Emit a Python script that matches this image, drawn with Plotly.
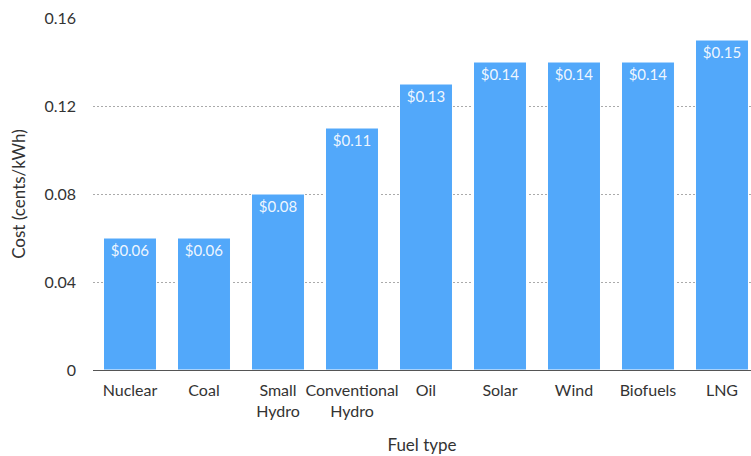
import plotly.graph_objects as go

categories = ["Nuclear", "Coal", "Small<br>Hydro", "Conventional<br>Hydro", "Oil", "Solar", "Wind", "Biofuels", "LNG"]
costs = [0.06, 0.06, 0.08, 0.11, 0.13, 0.14, 0.14, 0.14, 0.15]
labels = ["$0.06", "$0.06", "$0.08", "$0.11", "$0.13", "$0.14", "$0.14", "$0.14", "$0.15"]
y_ticks = [0, 0.04, 0.08, 0.12, 0.16]
y_ticktext = ["0", "0.04", "0.08", "0.12", "0.16"]

FONT = "Lato, 'Open Sans', sans-serif"

fig = go.Figure(go.Bar(
    x=list(range(len(categories))),
    y=costs,
    text=labels,
    textposition="inside",
    insidetextanchor="end",
    textangle=0,
    textfont=dict(color="rgba(255,255,255,0.92)", size=15, family=FONT),
    marker=dict(color="#52a8fa", line=dict(color="white", width=1)),
    cliponaxis=False,
))

fig.update_layout(
    width=751, height=456,
    margin=dict(l=93, r=0, t=18, b=86, autoexpand=False),
    paper_bgcolor="white", plot_bgcolor="white",
    bargap=0.284,
    showlegend=False,
    font=dict(family=FONT, size=16, color="#333"),
)
fig.update_xaxes(
    tickvals=list(range(len(categories))), ticktext=categories,
    range=[-0.5, 8.392],
    showline=True, linecolor="#555", linewidth=1,
    showgrid=False, ticks="",
    ticklabelstandoff=6,
    tickfont=dict(size=16, color="#333"),
    title=dict(text="Fuel type", font=dict(size=17, color="#333"), standoff=20),
    automargin=False,
)
fig.update_yaxes(
    range=[0, 0.1600001],
    tickvals=y_ticks, ticktext=y_ticktext,
    showgrid=True, gridcolor="#aaaaaa", griddash="2px,2px", gridwidth=1,
    zeroline=False, showline=False, ticks="",
    ticklabelstandoff=16,
    tickfont=dict(size=16, color="#333"),
    title=dict(text="Cost (cents/kWh)", font=dict(size=17, color="#333"), standoff=14),
    automargin=False,
)

fig.write_html(
    "out.html",
    config={"displayModeBar": False},
    post_script="document.body.style.margin='0';document.body.style.overflow='hidden';",
)
